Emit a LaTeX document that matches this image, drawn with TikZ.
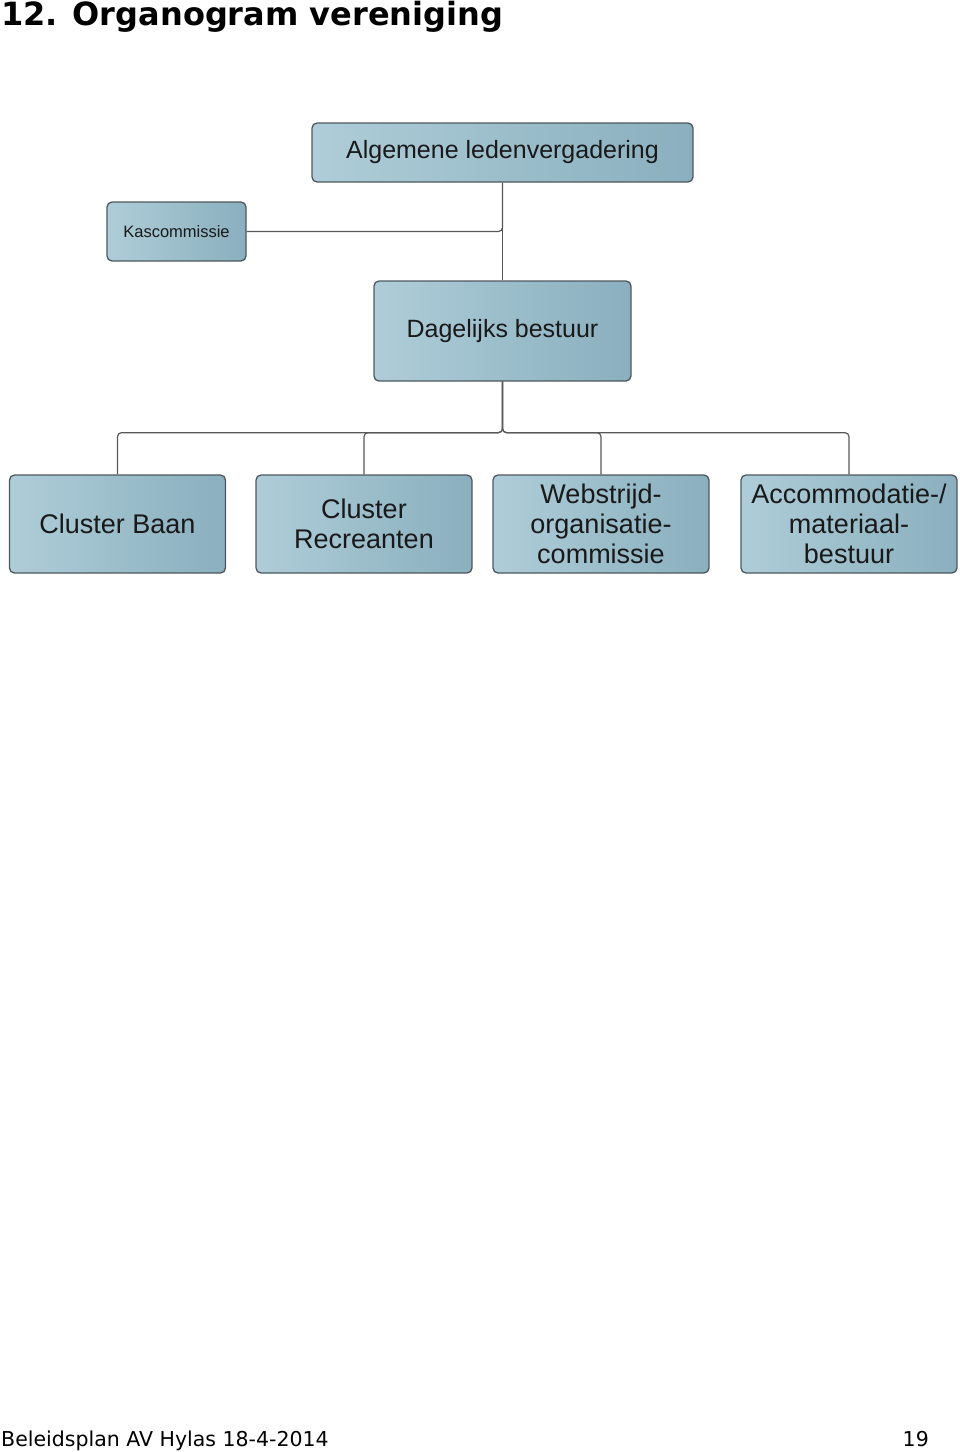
\documentclass[tikz,border=0pt]{standalone}
\usepackage{fontspec}
\setmainfont{Liberation Sans}
\newfontfamily\verdana{DejaVu Sans}
\usepackage{tikz}
\usetikzlibrary{calc}
\usepackage{xcolor}
\definecolor{boxL}{RGB}{174,205,216}
\definecolor{boxR}{RGB}{138,175,190}
\definecolor{rand}{RGB}{78,88,94}
\definecolor{lijn}{RGB}{88,88,88}

\begin{document}
\begin{tikzpicture}[x=1pt,y=-1pt,
		blok/.style={draw=rand,line width=1.3pt,rounded corners=5pt,left color=boxL,right color=boxR,
			text=black!90,align=center,inner sep=0pt},
		groot/.style={blok,font=\fontsize{25}{29}\selectfont},
		cluster/.style={blok,minimum width=216pt,minimum height=98pt,font=\fontsize{27}{30}\selectfont},
		lijnstuk/.style={draw=lijn,line width=1.2pt,rounded corners=4pt}]
			\useasboundingbox (0,0) rectangle (960,1452);
			%titel
			\node[anchor=base west,font=\verdana\bfseries\fontsize{32}{36}\selectfont,inner sep=0pt] (titel) at (1,25) {12. Organogram vereniging};
			%bestuur
			\node[groot,minimum width=381pt,minimum height=59pt] (alv) at (502.5,152.5) {Algemene ledenvergadering};
			\node[blok,minimum width=139pt,minimum height=59pt,font=\fontsize{16.5}{19}\selectfont] (kas) at (176.5,231.5) {Kascommissie};
			\node[groot,minimum width=257pt,minimum height=100pt] (db) at (502.5,331) {Dagelijks bestuur};
			%clusters
			\node[cluster] (baan) at (117.5,524) {Cluster Baan};
			\node[cluster] (recr) at (364,524) {Cluster\\Recreanten};
			\node[cluster] (wok) at (601,524) {Webstrijd-\\organisatie-\\commissie};
			\node[cluster] (acc) at (849,524) {Accommodatie-/\\materiaal-\\bestuur};
			%lijnen
			\draw[lijnstuk] (alv.south) -- (db.north);
			\draw[lijnstuk] (kas.east) -| (alv.south);
			\draw[lijnstuk] (db.south) -- ++(0,51) -| (baan.north);
			\draw[lijnstuk] (db.south) -- ++(0,51) -| (recr.north);
			\draw[lijnstuk] (db.south) -- ++(0,51) -| (wok.north);
			\draw[lijnstuk] (db.south) -- ++(0,51) -| (acc.north);
			%voettekst
			\node[anchor=base west,font=\verdana\fontsize{20.5}{24}\selectfont,inner sep=0pt] (voet) at (1,1446) {Beleidsplan AV Hylas 18-4-2014};
			\node[anchor=base east,font=\verdana\fontsize{20.5}{24}\selectfont,inner sep=0pt] (pagina) at (929,1446) {19};
		\end{tikzpicture}
\end{document}
